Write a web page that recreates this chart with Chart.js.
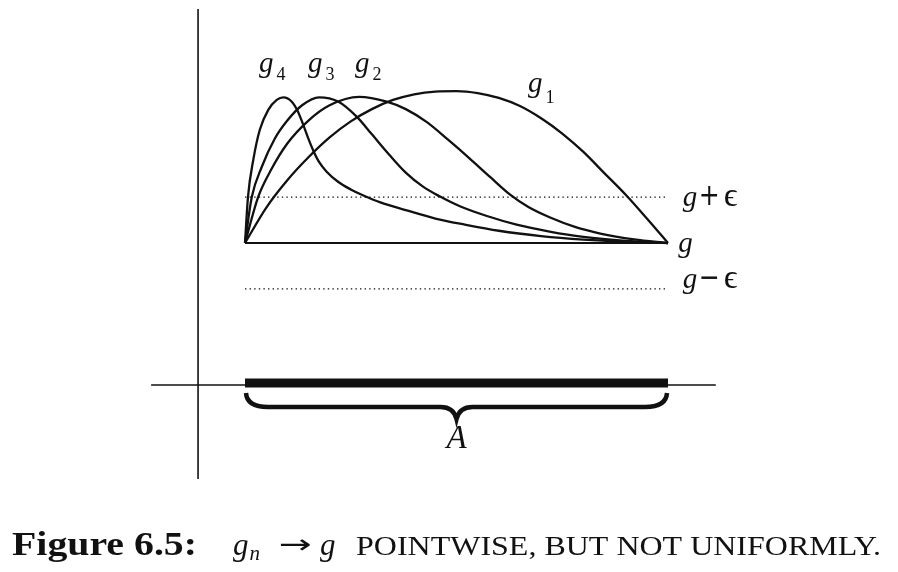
<!DOCTYPE html>
<html>
<head>
<meta charset="utf-8">
<script src="https://cdn.jsdelivr.net/npm/chart.js@4"></script>
<style>
  html, body { margin: 0; padding: 0; background: #fff; }
  #wrap { position: relative; width: 898px; height: 572px; }
</style>
</head>
<body>
<div id="wrap"><canvas id="fig"></canvas></div>
<script>
// units: the set A is [0, 1] on x, the limit g is y = 0, epsilon = 0.3
const EPS = 0.3;
const SET_A = [0, 1];

// curves as [x, y]
const g1Points = [[0, 0], [0.05, 0.23], [0.1, 0.41], [0.15, 0.56], [0.2, 0.69], [0.25, 0.795],
  [0.3, 0.875], [0.35, 0.935], [0.4, 0.972], [0.45, 0.99], [0.5, 0.993], [0.55, 0.98],
  [0.6, 0.948], [0.65, 0.895], [0.7, 0.815], [0.75, 0.715], [0.8, 0.595], [0.85, 0.455],
  [0.9, 0.315], [0.95, 0.16], [1, 0]];
const g2Points = [[0, 0], [0.031, 0.3], [0.06, 0.47], [0.1, 0.65], [0.15, 0.8], [0.2, 0.9],
  [0.27, 0.955], [0.335, 0.924], [0.38, 0.875], [0.43, 0.79], [0.48, 0.675], [0.53, 0.555],
  [0.58, 0.43], [0.626, 0.318], [0.67, 0.235], [0.72, 0.168], [0.78, 0.105], [0.84, 0.062],
  [0.92, 0.024], [1, 0]];
const g3Points = [[0, 0], [0.016, 0.3], [0.04, 0.5], [0.07, 0.68], [0.1, 0.8], [0.135, 0.9],
  [0.175, 0.952], [0.22, 0.925], [0.264, 0.826], [0.3, 0.71], [0.34, 0.58], [0.38, 0.46],
  [0.42, 0.37], [0.46, 0.305], [0.508, 0.24], [0.57, 0.178], [0.642, 0.12], [0.72, 0.075],
  [0.8, 0.04], [0.9, 0.014], [1, 0]];
const g4Points = [[0, 0], [0.007, 0.3], [0.02, 0.55], [0.035, 0.74], [0.055, 0.87], [0.075, 0.935],
  [0.091, 0.952], [0.11, 0.925], [0.125, 0.86], [0.138, 0.77], [0.15, 0.68], [0.162, 0.6],
  [0.175, 0.53], [0.193, 0.466], [0.22, 0.4], [0.25, 0.35], [0.28, 0.31], [0.32, 0.265],
  [0.38, 0.215], [0.45, 0.16], [0.52, 0.12], [0.6, 0.08], [0.7, 0.045], [0.8, 0.022],
  [0.9, 0.008], [1, 0]];

// the coordinate axes of the sketch
const AXIS_X = -0.111;
const AXIS_Y = -0.928;
const AXIS_X_SPAN = [-0.222, 1.113];
const AXIS_Y_SPAN = [-1.542, 1.529];
const BAR_Y = -0.915;

const INK = '#111';
const SERIF = '"Liberation Serif", "Times New Roman", serif';

function seg(x0, y0, x1, y1) {
  return [{ x: x0, y: y0 }, { x: x1, y: y1 }];
}
function pts(arr) {
  return arr.map(([x, y]) => ({ x, y }));
}
function curve(arr) {
  return { data: pts(arr), borderColor: INK, borderWidth: 2.3, cubicInterpolationMode: 'monotone' };
}
function straight(data, width, dash) {
  return { data, borderColor: INK, borderWidth: width, borderDash: dash || [], borderCapStyle: 'butt', tension: 0 };
}

// write a run of [text, font, gap, dy] pieces starting at (x, y)
function writeRun(ctx, x, y, pieces) {
  let cx = x;
  pieces.forEach(([t, font, gap, dy]) => {
    ctx.font = font;
    cx += gap || 0;
    ctx.fillText(t, cx, y + (dy || 0));
    cx += ctx.measureText(t).width;
  });
  return cx;
}
function fitText(ctx, text, font, x, y, width) {
  ctx.font = font;
  const sx = width / ctx.measureText(text).width;
  ctx.save();
  ctx.translate(x, y);
  ctx.scale(sx, 1);
  ctx.fillText(text, 0, 0);
  ctx.restore();
}

const sketchText = {
  id: 'sketchText',
  afterDatasetsDraw(chart) {
    const { ctx, scales: { x, y } } = chart;
    const px = (v) => x.getPixelForValue(v);
    const py = (v) => y.getPixelForValue(v);
    const it = 'italic 29px ' + SERIF;
    const num = '18px ' + SERIF;
    const op = '30px "DejaVu Sans", sans-serif';
    const eps = '34px ' + SERIF;
    ctx.save();
    ctx.fillStyle = INK;
    ctx.textBaseline = 'alphabetic';
    ctx.textAlign = 'left';

    // curve names
    writeRun(ctx, px(0.033), py(1.118), [['g', it], ['4', num, 3, 8]]);
    writeRun(ctx, px(0.149), py(1.118), [['g', it], ['3', num, 3, 8]]);
    writeRun(ctx, px(0.26), py(1.118), [['g', it], ['2', num, 3, 8]]);
    writeRun(ctx, px(0.669), py(0.987), [['g', it], ['1', num, 3, 11]]);

    // band labels
    const bx = px(1.035);
    const yUp = py(EPS - 0.058), yDn = py(-EPS + 0.006);
    writeRun(ctx, bx, yUp, [['g', it]]);
    fitText(ctx, '+', op, bx + 16, yUp - 1, 21);
    writeRun(ctx, bx + 41, yUp, [['\u03F5', eps]]);
    writeRun(ctx, px(1.024), py(-0.059), [['g', it]]);
    writeRun(ctx, bx, yDn, [['g', it]]);
    fitText(ctx, '\u2212', op, bx + 16, yDn - 1, 21);
    writeRun(ctx, bx + 41, yDn, [['\u03F5', eps]]);

    // brace under A
    const x0 = px(SET_A[0]) + 1, x1 = px(SET_A[1]) - 1, xm = (x0 + x1) / 2;
    const top = py(AXIS_Y) + 8, flat = top + 14, tip = top + 26;
    ctx.strokeStyle = INK;
    ctx.lineWidth = 4.5;
    ctx.lineCap = 'butt';
    ctx.beginPath();
    ctx.moveTo(x0, top);
    ctx.quadraticCurveTo(x0 + 1, flat, x0 + 22, flat);
    ctx.lineTo(xm - 16, flat);
    ctx.quadraticCurveTo(xm - 3, flat, xm, tip);
    ctx.quadraticCurveTo(xm + 3, flat, xm + 16, flat);
    ctx.lineTo(x1 - 22, flat);
    ctx.quadraticCurveTo(x1 - 1, flat, x1, top);
    ctx.stroke();
    ctx.textAlign = 'center';
    ctx.font = 'italic 33px ' + SERIF;
    ctx.fillText('A', xm, py(-1.34));
    ctx.textAlign = 'left';

    // caption
    fitText(ctx, 'Figure 6.5:', 'bold 33px ' + SERIF, 12, 555, 185);
    writeRun(ctx, 233, 555, [['g', 'italic 31px ' + SERIF], ['n', 'italic 21px ' + SERIF, 1, 5]]);
    fitText(ctx, '\u2192', '26px "DejaVu Sans", sans-serif', 279, 553, 33);
    writeRun(ctx, 320, 555, [['g', 'italic 31px ' + SERIF]]);
    fitText(ctx, 'POINTWISE, BUT NOT UNIFORMLY.', '27px ' + SERIF, 356, 555, 525);
    ctx.restore();
  }
};

function draw() {
  new Chart(document.getElementById('fig'), {
    type: 'scatter',
    data: {
      datasets: [
        straight(seg(AXIS_X, AXIS_Y_SPAN[0], AXIS_X, AXIS_Y_SPAN[1]), 1.6),
        straight(seg(AXIS_X_SPAN[0], AXIS_Y, AXIS_X_SPAN[1], AXIS_Y), 1.6),
        straight(seg(SET_A[0], BAR_Y, SET_A[1], BAR_Y), 9),
        straight(seg(SET_A[0], EPS, SET_A[1], EPS), 1.3, [1.4, 3.2]),
        straight(seg(SET_A[0], -EPS, SET_A[1], -EPS), 1.3, [1.4, 3.2]),
        straight(seg(SET_A[0], 0, SET_A[1], 0), 2),
        curve(g1Points),
        curve(g2Points),
        curve(g3Points),
        curve(g4Points)
      ]
    },
    options: {
      responsive: true,
      maintainAspectRatio: false,
      animation: false,
      showLine: true,
      layout: { padding: 0 },
      elements: { point: { radius: 0, hoverRadius: 0 } },
      plugins: { legend: { display: false }, tooltip: { enabled: false } },
      events: [],
      scales: {
        x: { type: 'linear', display: false, min: -0.5792, max: 1.5437 },
        y: { type: 'linear', display: false, min: -2.1504, max: 1.5882 }
      }
    },
    plugins: [sketchText]
  });
}

Promise.all([
  document.fonts.load('italic 29px "Liberation Serif"'),
  document.fonts.load('bold 33px "Liberation Serif"'),
  document.fonts.load('27px "Liberation Serif"')
]).then(draw, draw);
</script>
</body>
</html>
